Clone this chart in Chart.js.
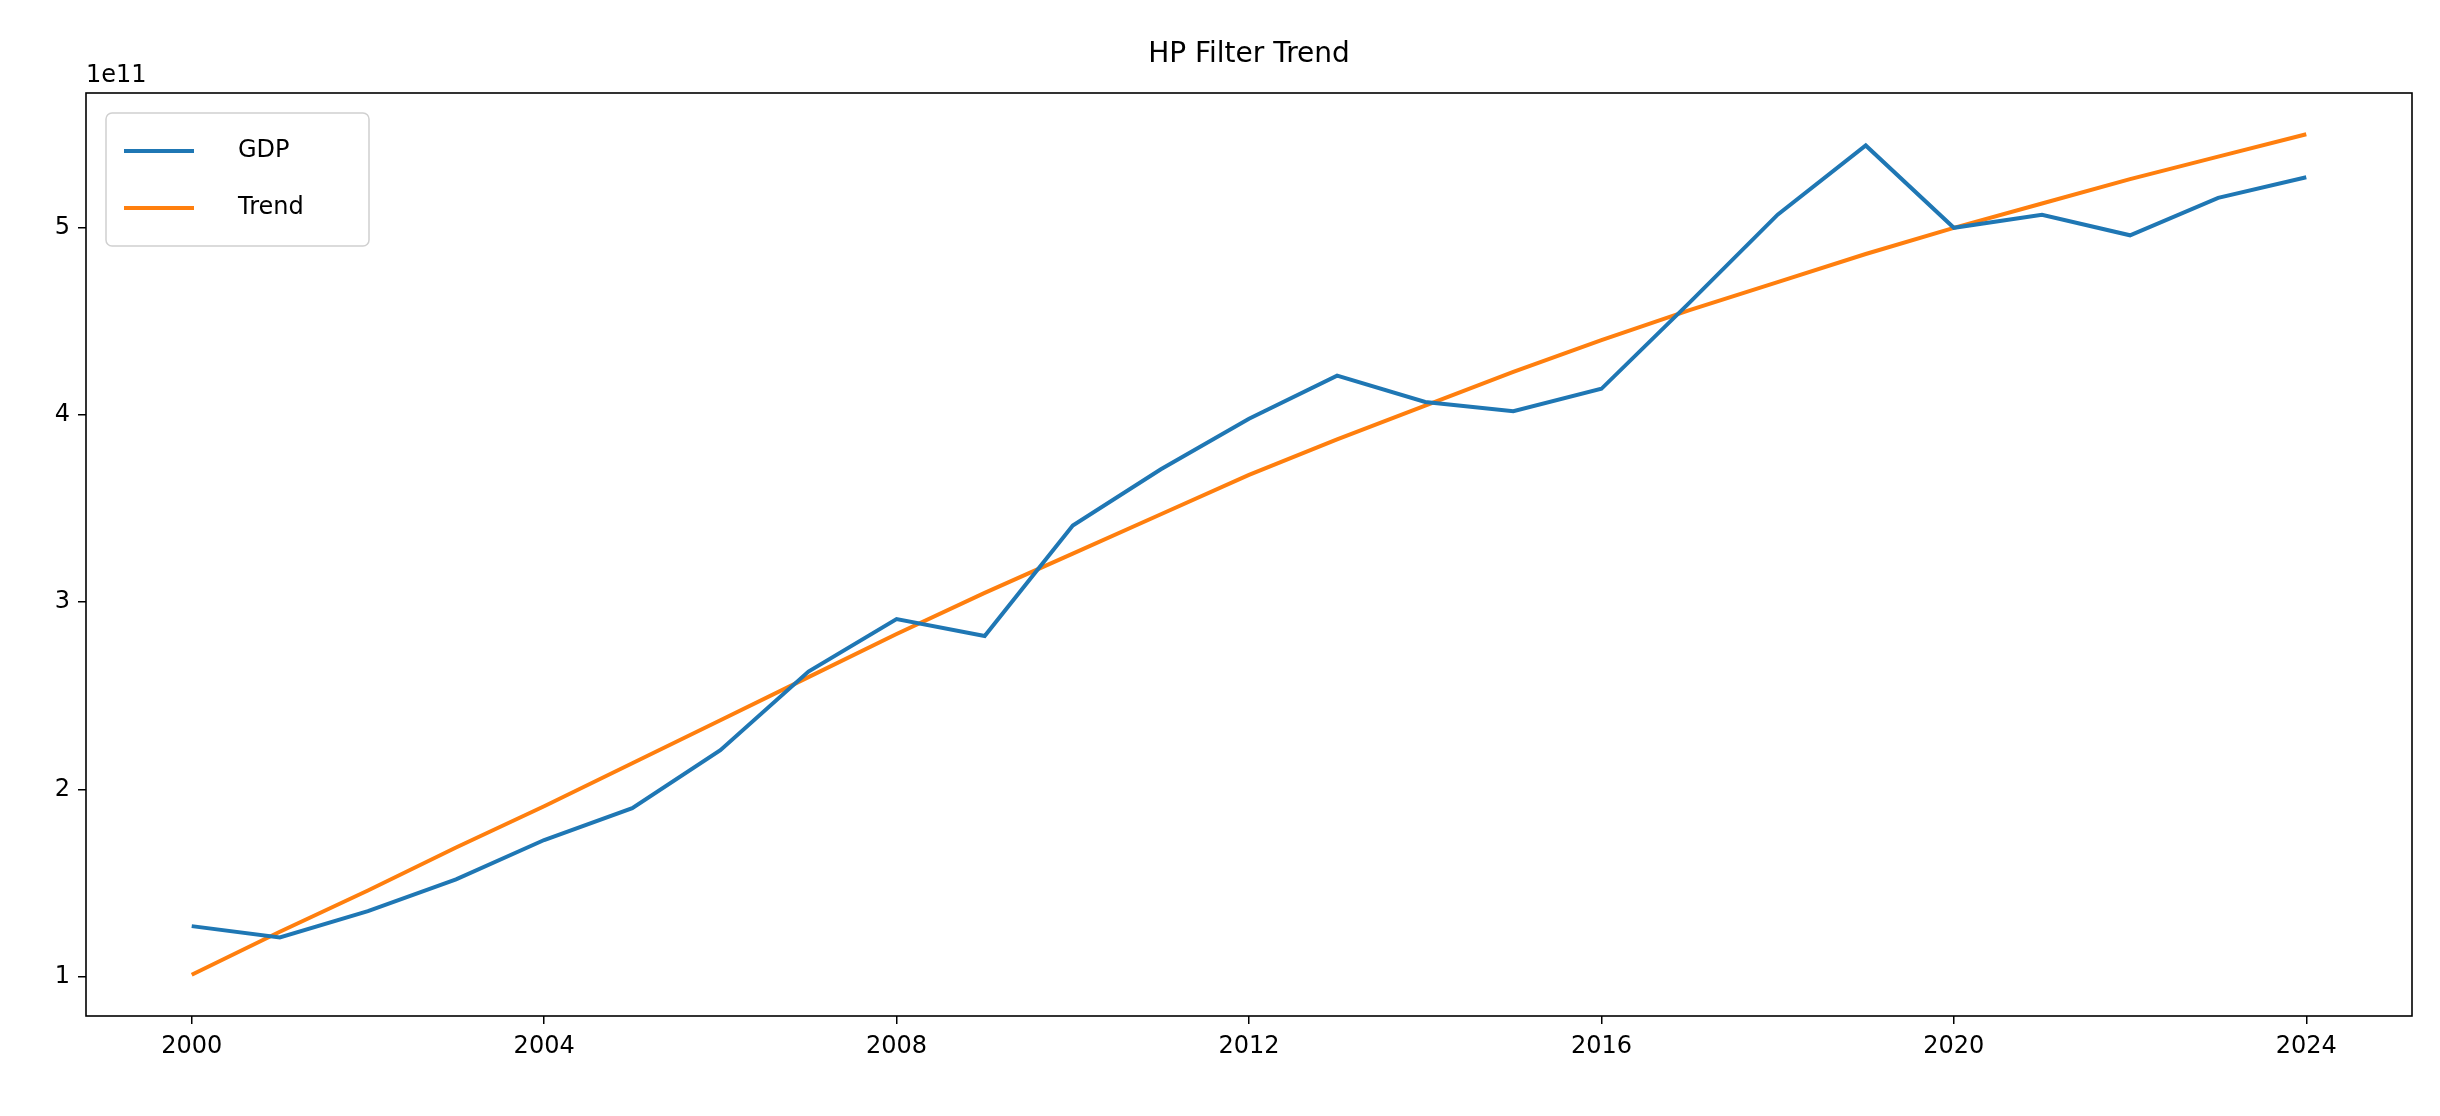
<!DOCTYPE html>
<html>
<head>
<meta charset="utf-8">
<script src="https://cdn.jsdelivr.net/npm/chart.js@4/dist/chart.umd.min.js"></script>
<style>body{margin:0;background:#fff}canvas{display:block}</style>
</head>
<body>
<canvas id="c" width="2440" height="1116"></canvas>
<script>
// years and values (units of 1e11)
const years = [2000,2001,2002,2003,2004,2005,2006,2007,2008,2009,2010,2011,2012,2013,2014,2015,2016,2017,2018,2019,2020,2021,2022,2023,2024];
const gdp = [1.27,1.21,1.35,1.52,1.73,1.90,2.21,2.63,2.91,2.82,3.41,3.71,3.98,4.21,4.07,4.02,4.14,4.60,5.07,5.44,5.00,5.07,4.96,5.16,5.27];
const trend = [1.01,1.24,1.46,1.69,1.91,2.14,2.37,2.60,2.83,3.05,3.26,3.47,3.68,3.87,4.05,4.23,4.40,4.56,4.71,4.86,5.00,5.13,5.26,5.38,5.50];
const xTicks = [2000,2004,2008,2012,2016,2020,2024];

const FONT = 'DejaVu Sans';

const extras = {
  id: 'extras',
  afterDraw(chart) {
    const {ctx, chartArea: a} = chart;
    ctx.save();
    ctx.strokeStyle = '#000'; ctx.lineWidth = 1.6;
    ctx.strokeRect(a.left, a.top, a.right - a.left, a.bottom - a.top);
    ctx.fillStyle = '#000';
    ctx.font = '28px ' + FONT;
    ctx.textAlign = 'center'; ctx.textBaseline = 'alphabetic';
    ctx.fillText('HP Filter Trend', (a.left + a.right) / 2, 62);
    ctx.font = '24px ' + FONT;
    ctx.textAlign = 'left';
    ctx.fillText('1e11', a.left, 82);
    // legend
    const lx = a.left + 20, ly = a.top + 20, w = 263, h = 133;
    ctx.fillStyle = 'rgba(255,255,255,0.8)';
    ctx.strokeStyle = '#d0d0d0'; ctx.lineWidth = 1.5;
    ctx.beginPath(); ctx.roundRect(lx, ly, w, h, 6); ctx.fill(); ctx.stroke();
    chart.data.datasets.forEach((ds, i) => {
      const yy = ly + 38 + i * 57;
      ctx.strokeStyle = ds.borderColor; ctx.lineWidth = 4;
      ctx.beginPath(); ctx.moveTo(lx + 18, yy); ctx.lineTo(lx + 88, yy); ctx.stroke();
      ctx.fillStyle = '#000'; ctx.textBaseline = 'middle';
      ctx.font = '24px ' + FONT;
      ctx.fillText(ds.label, lx + 132, yy);
    });
    ctx.restore();
  }
};

new Chart(document.getElementById('c'), {
  type: 'line',
  data: {
    datasets: [
      { label: 'GDP', data: years.map((y, i) => ({x: y, y: gdp[i]})), borderColor: '#1f77b4', borderWidth: 4, pointRadius: 0, tension: 0 },
      { label: 'Trend', data: years.map((y, i) => ({x: y, y: trend[i]})), borderColor: '#ff7f0e', borderWidth: 4, pointRadius: 0, tension: 0 }
    ]
  },
  options: {
    responsive: false,
    animation: false,
    devicePixelRatio: 1,
    layout: { padding: { top: 93, right: 28, left: 0, bottom: 0 } },
    plugins: { legend: { display: false }, title: { display: false }, tooltip: { enabled: false } },
    scales: {
      x: {
        type: 'linear', min: 1998.8, max: 2025.2,
        afterBuildTicks: s => { s.ticks = xTicks.map(v => ({value: v})); },
        afterFit: s => { s.height = 100; },
        grid: { drawOnChartArea: false, drawTicks: true, tickLength: 8, color: '#000', lineWidth: 1.5 },
        border: { display: false },
        ticks: { color: '#000', font: { family: FONT, size: 24 }, padding: 8, maxRotation: 0, callback: v => String(v) }
      },
      y: {
        min: 0.79, max: 5.72,
        afterBuildTicks: s => { s.ticks = [1,2,3,4,5].map(v => ({value: v})); },
        afterFit: s => { s.width = 86; },
        grid: { drawOnChartArea: false, drawTicks: true, tickLength: 8, color: '#000', lineWidth: 1.5 },
        border: { display: false },
        ticks: { color: '#000', font: { family: FONT, size: 24 }, padding: 8, callback: v => String(v) }
      }
    }
  },
  plugins: [extras]
});
</script>
</body>
</html>
